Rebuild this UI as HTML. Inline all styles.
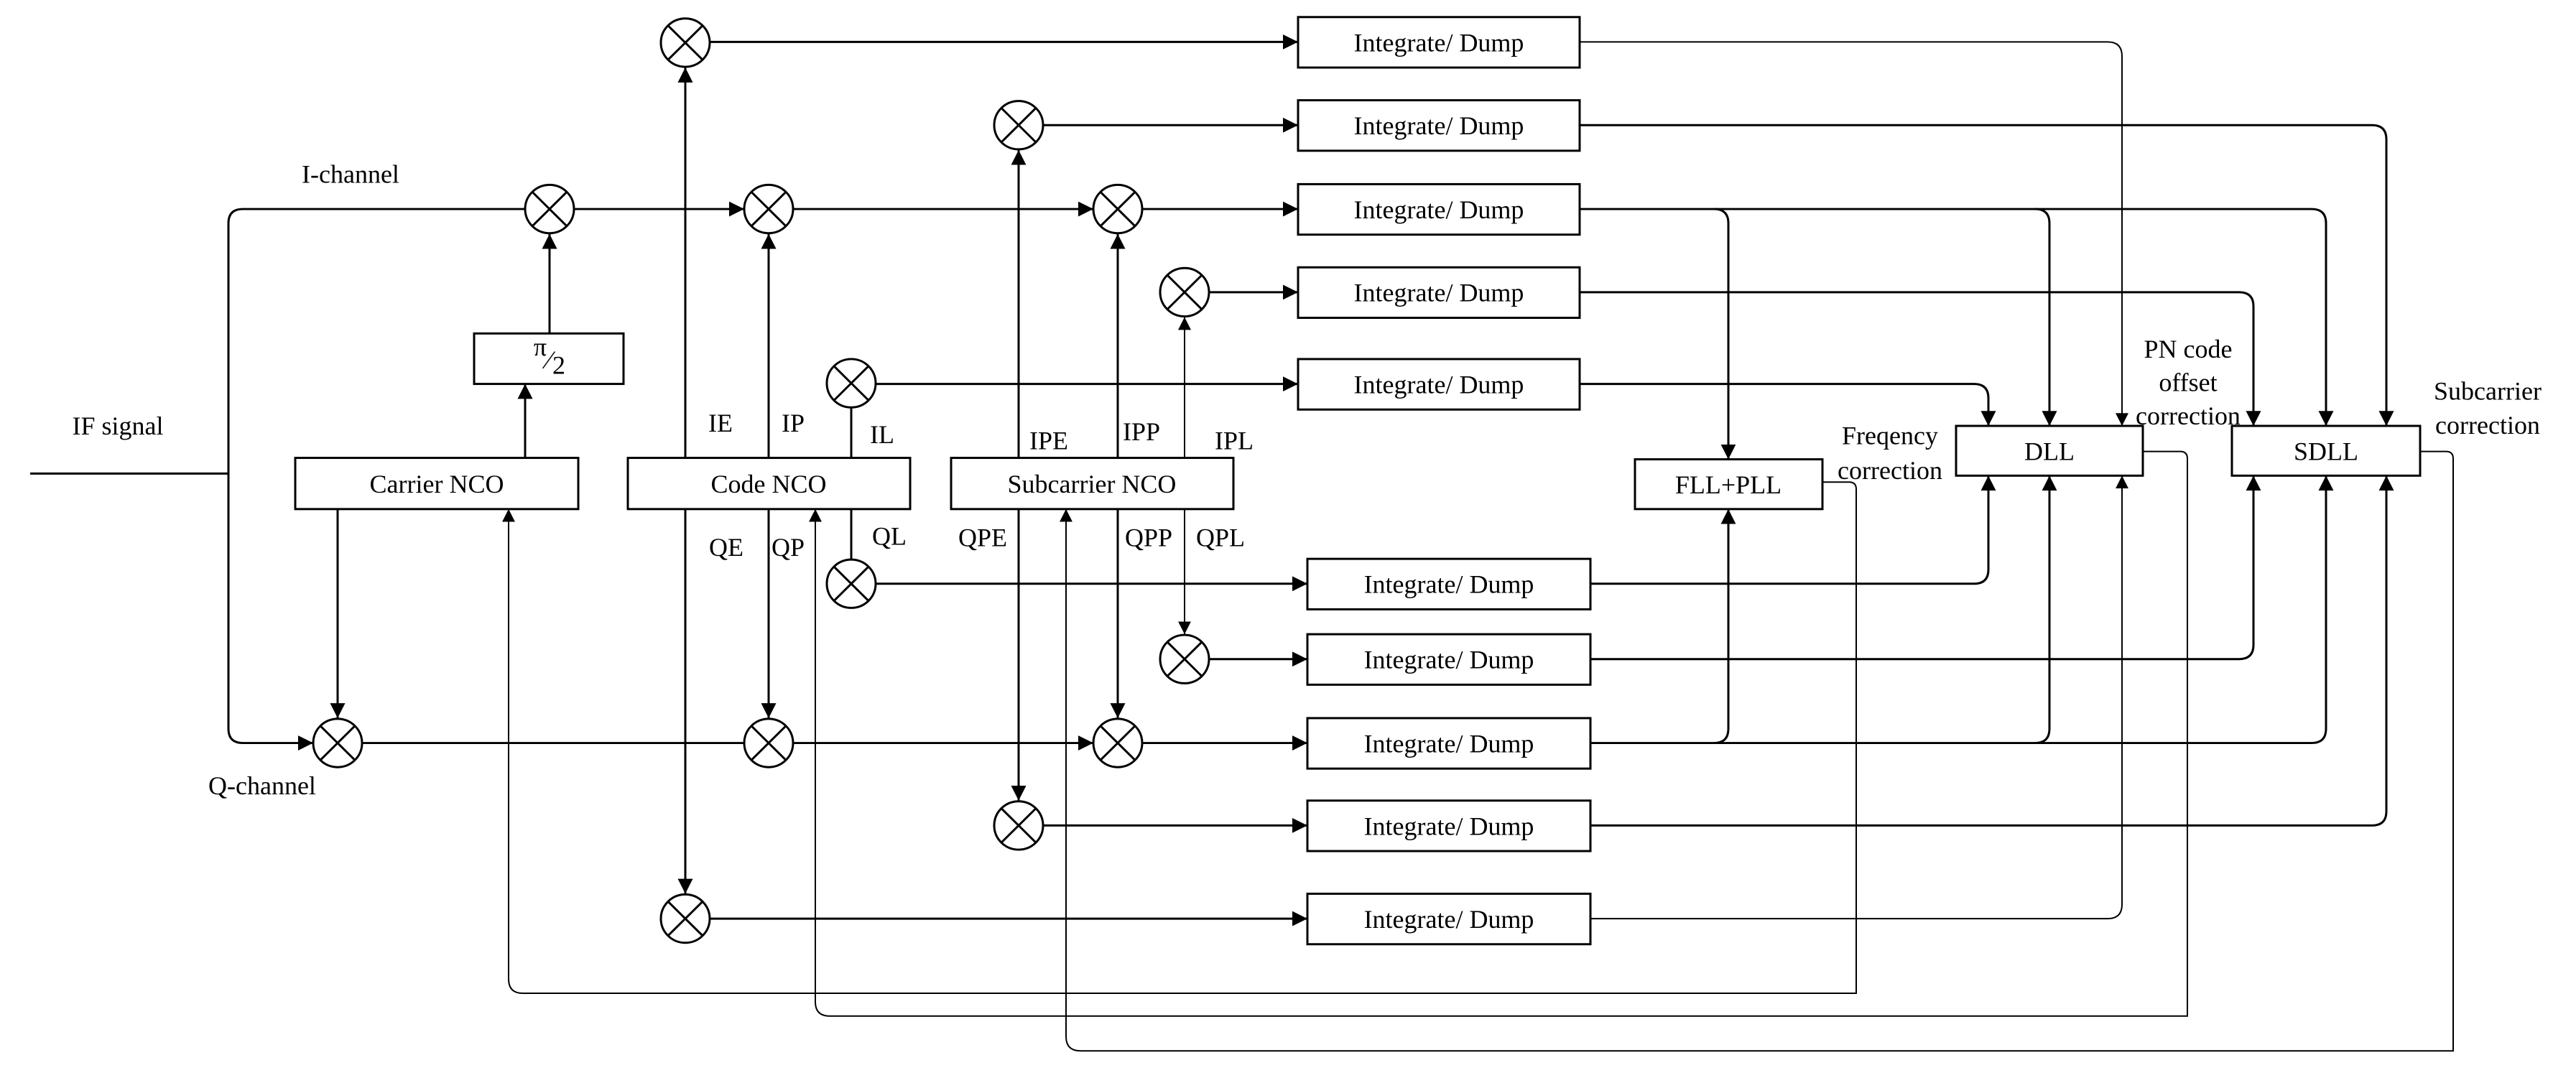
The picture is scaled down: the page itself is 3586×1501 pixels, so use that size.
<!DOCTYPE html>
<html><head><meta charset="utf-8"><style>
html,body{margin:0;padding:0;background:#fff}
svg{display:block}
text{font-family:"Liberation Serif",serif;font-size:36px;fill:#000}
</style></head><body>
<svg width="3586" height="1501" viewBox="0 0 3586 1501" xmlns="http://www.w3.org/2000/svg">
<defs>
<marker id="a" viewBox="0 0 10 10" refX="10" refY="5" markerWidth="7" markerHeight="7" markerUnits="strokeWidth" orient="auto"><path d="M0,0 L10,5 L0,10 z" fill="#000"/></marker>
<marker id="b" viewBox="0 0 10 10" refX="10" refY="5" markerWidth="9" markerHeight="9" markerUnits="strokeWidth" orient="auto"><path d="M0,0 L10,5 L0,10 z" fill="#000"/></marker>
</defs>
<g transform="scale(1,0.99)">
<g fill="none" stroke="#000" stroke-width="3">
<path d="M42,666 H318"/>
<path d="M731,294 H338 Q318,294 318,314 V1025 Q318,1045 338,1045 H436" marker-end="url(#a)"/>
<path d="M799,294 H1036" marker-end="url(#a)"/>
<path d="M1104,294 H1522" marker-end="url(#a)"/>
<path d="M1590,294 H1807" marker-end="url(#a)"/>
<path d="M504,1045 H1036"/>
<path d="M1104,1045 H1522" marker-end="url(#a)"/>
<path d="M1590,1045 H1820" marker-end="url(#a)"/>
<path d="M988,59 H1807" marker-end="url(#a)"/>
<path d="M1452,176 H1807" marker-end="url(#a)"/>
<path d="M1683,411 H1807" marker-end="url(#a)"/>
<path d="M1219,540 H1807" marker-end="url(#a)"/>
<path d="M1219,821 H1820" marker-end="url(#a)"/>
<path d="M1683,927 H1820" marker-end="url(#a)"/>
<path d="M1452,1161 H1820" marker-end="url(#a)"/>
<path d="M988,1292 H1820" marker-end="url(#a)"/>
<path d="M731,644 V540" marker-end="url(#a)"/>
<path d="M765,469 V329" marker-end="url(#a)"/>
<path d="M470,716 V1010" marker-end="url(#a)"/>
<path d="M954,644 V95" marker-end="url(#a)"/>
<path d="M954,716 V1257" marker-end="url(#a)"/>
<path d="M1070,644 V329" marker-end="url(#a)"/>
<path d="M1070,716 V1010" marker-end="url(#a)"/>
<path d="M1185,644 V574"/>
<path d="M1185,716 V786"/>
<path d="M1418,644 V211" marker-end="url(#a)"/>
<path d="M1418,716 V1126" marker-end="url(#a)"/>
<path d="M1556,644 V329" marker-end="url(#a)"/>
<path d="M1556,716 V1010" marker-end="url(#a)"/>
<path d="M1649,644 V446" stroke-width="2" marker-end="url(#b)"/>
<path d="M1649,716 V892" stroke-width="2" marker-end="url(#b)"/>
<path d="M2199,59 H2934 Q2954,59 2954,79 V599" stroke-width="2" marker-end="url(#b)"/>
<path d="M2199,176 H3302 Q3322,176 3322,196 V599" marker-end="url(#a)"/>
<path d="M2199,294 H3218 Q3238,294 3238,314 V599" marker-end="url(#a)"/>
<path d="M2386,294 Q2406,294 2406,314 V646" marker-end="url(#a)"/>
<path d="M2833,294 Q2853,294 2853,314 V599" marker-end="url(#a)"/>
<path d="M2199,411 H3117 Q3137,411 3137,431 V599" marker-end="url(#a)"/>
<path d="M2199,540 H2748 Q2768,540 2768,560 V599" marker-end="url(#a)"/>
<path d="M2214,821 H2748 Q2768,821 2768,801 V669" marker-end="url(#a)"/>
<path d="M2214,927 H3117 Q3137,927 3137,907 V669" marker-end="url(#a)"/>
<path d="M2214,1045 H3218 Q3238,1045 3238,1025 V669" marker-end="url(#a)"/>
<path d="M2386,1045 Q2406,1045 2406,1025 V716" marker-end="url(#a)"/>
<path d="M2833,1045 Q2853,1045 2853,1025 V669" marker-end="url(#a)"/>
<path d="M2214,1161 H3302 Q3322,1161 3322,1141 V669" marker-end="url(#a)"/>
<path d="M2214,1292 H2934 Q2954,1292 2954,1272 V669" stroke-width="2" marker-end="url(#b)"/>
<path d="M2537,678 H2574 Q2584,678 2584,688 V1397 H728 Q708,1397 708,1377 V716" stroke-width="2" marker-end="url(#b)"/>
<path d="M2983,635 H3035 Q3045,635 3045,645 V1429 H1155 Q1135,1429 1135,1409 V716" stroke-width="2" marker-end="url(#b)"/>
<path d="M3369,635 H3405 Q3415,635 3415,645 V1478 H1504 Q1484,1478 1484,1458 V716" stroke-width="2" marker-end="url(#b)"/>
</g>
<g stroke="#000" stroke-width="3" fill="#fff">
<circle cx="954" cy="60" r="34"/><circle cx="1418" cy="176" r="34"/>
<circle cx="765" cy="294" r="34"/><circle cx="1070" cy="294" r="34"/><circle cx="1556" cy="294" r="34"/>
<circle cx="1649" cy="411" r="34"/><circle cx="1185" cy="539" r="34"/>
<circle cx="1185" cy="821" r="34"/><circle cx="1649" cy="927" r="34"/>
<circle cx="470" cy="1045" r="34"/><circle cx="1070" cy="1045" r="34"/><circle cx="1556" cy="1045" r="34"/>
<circle cx="1418" cy="1161" r="34"/><circle cx="954" cy="1292" r="34"/>
</g>
<g stroke="#000" stroke-width="3">
<path d="M930,36 L978,84 M978,36 L930,84"/>
<path d="M1394,152 L1442,200 M1442,152 L1394,200"/>
<path d="M741,270 L789,318 M789,270 L741,318"/>
<path d="M1046,270 L1094,318 M1094,270 L1046,318"/>
<path d="M1532,270 L1580,318 M1580,270 L1532,318"/>
<path d="M1625,387 L1673,435 M1673,387 L1625,435"/>
<path d="M1161,515 L1209,563 M1209,515 L1161,563"/>
<path d="M1161,797 L1209,845 M1209,797 L1161,845"/>
<path d="M1625,903 L1673,951 M1673,903 L1625,951"/>
<path d="M446,1021 L494,1069 M494,1021 L446,1069"/>
<path d="M1046,1021 L1094,1069 M1094,1021 L1046,1069"/>
<path d="M1532,1021 L1580,1069 M1580,1021 L1532,1069"/>
<path d="M1394,1137 L1442,1185 M1442,1137 L1394,1185"/>
<path d="M930,1268 L978,1316 M978,1268 L930,1316"/>
</g>
<g fill="#fff" stroke="#000" stroke-width="3">
<rect x="660" y="469" width="208" height="71"/>
<rect x="411" y="644" width="394" height="72"/>
<rect x="874" y="644" width="393" height="72"/>
<rect x="1324" y="644" width="393" height="72"/>
<rect x="1807" y="24" width="392" height="71"/>
<rect x="1807" y="141" width="392" height="71"/>
<rect x="1807" y="259" width="392" height="71"/>
<rect x="1807" y="376" width="392" height="71"/>
<rect x="1807" y="505" width="392" height="71"/>
<rect x="1820" y="786" width="394" height="71"/>
<rect x="1820" y="892" width="394" height="71"/>
<rect x="1820" y="1010" width="394" height="71"/>
<rect x="1820" y="1126" width="394" height="71"/>
<rect x="1820" y="1257" width="394" height="71"/>
<rect x="2276" y="646" width="261" height="70"/>
<rect x="2723" y="599" width="260" height="70"/>
<rect x="3107" y="599" width="262" height="70"/>
</g>
<g text-anchor="middle">
<text x="752" y="500" font-size="24">π</text>
<text x="764" y="518" font-size="44">⁄</text>
<text x="778" y="526" font-size="26">2</text>
<text x="608" y="693">Carrier NCO</text>
<text x="1070" y="693">Code NCO</text>
<text x="1520" y="693">Subcarrier NCO</text>
<text x="2003" y="72">Integrate/ Dump</text>
<text x="2003" y="189">Integrate/ Dump</text>
<text x="2003" y="307">Integrate/ Dump</text>
<text x="2003" y="424">Integrate/ Dump</text>
<text x="2003" y="553">Integrate/ Dump</text>
<text x="2017" y="834">Integrate/ Dump</text>
<text x="2017" y="940">Integrate/ Dump</text>
<text x="2017" y="1058">Integrate/ Dump</text>
<text x="2017" y="1174">Integrate/ Dump</text>
<text x="2017" y="1305">Integrate/ Dump</text>
<text x="2406" y="694">FLL+PLL</text>
<text x="2853" y="647">DLL</text>
<text x="3238" y="647">SDLL</text>
<text x="164" y="611">IF signal</text>
<text x="488" y="257">I-channel</text>
<text x="365" y="1117">Q-channel</text>
<text x="1003" y="607">IE</text>
<text x="1104" y="607">IP</text>
<text x="1228" y="623">IL</text>
<text x="1011" y="782">QE</text>
<text x="1097" y="782">QP</text>
<text x="1238" y="766">QL</text>
<text x="1460" y="632">IPE</text>
<text x="1589" y="619">IPP</text>
<text x="1718" y="632">IPL</text>
<text x="1368" y="768">QPE</text>
<text x="1599" y="768">QPP</text>
<text x="1699" y="768">QPL</text>
<text x="2631" y="625">Freqency</text>
<text x="2631" y="674">correction</text>
<text x="3046" y="503">PN code</text>
<text x="3046" y="550">offset</text>
<text x="3046" y="597">correction</text>
<text x="3463" y="562">Subcarrier</text>
<text x="3463" y="610">correction</text>
</g>
</g>
</svg>
</body></html>
